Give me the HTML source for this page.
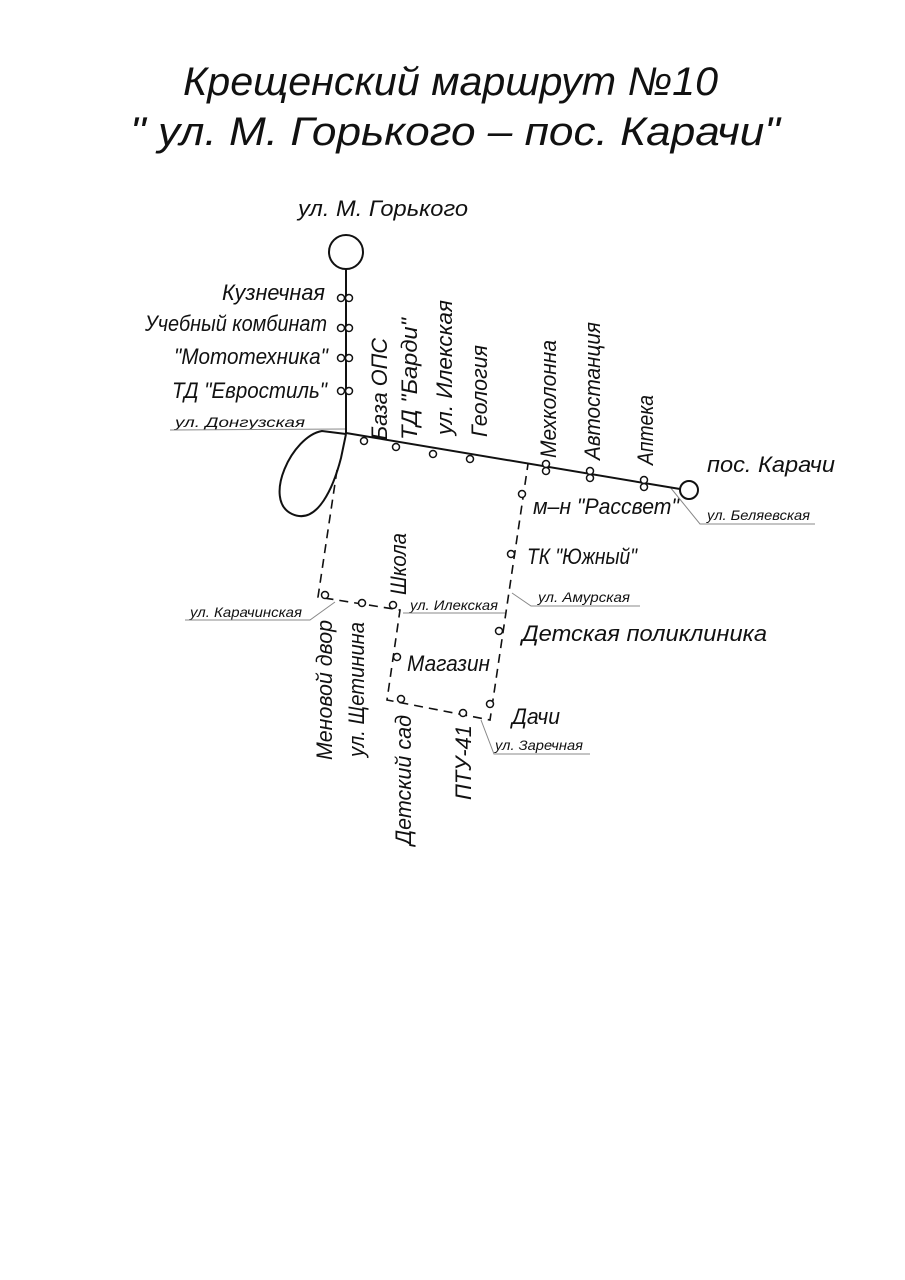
<!DOCTYPE html>
<html><head><meta charset="utf-8"><style>
html,body{margin:0;padding:0;background:#fff}
svg{display:block}
text{font-family:"Liberation Sans",sans-serif;font-style:italic;fill:#111}
</style></head><body>
<svg width="905" height="1280" viewBox="0 0 905 1280" xmlns="http://www.w3.org/2000/svg">
<rect width="905" height="1280" fill="#fff"/>
<g font-size="40" font-weight="normal">
<text x="183" y="95" textLength="535" lengthAdjust="spacingAndGlyphs">Крещенский маршрут №10</text>
<text x="130" y="145" textLength="650" lengthAdjust="spacingAndGlyphs">" ул.  М. Горького – пос. Карачи"</text>
</g>
<g font-size="22">
<text x="298" y="216" textLength="170" lengthAdjust="spacingAndGlyphs">ул. М. Горького</text>
<text x="222" y="300" textLength="103" lengthAdjust="spacingAndGlyphs">Кузнечная</text>
<text x="145" y="331" textLength="182" lengthAdjust="spacingAndGlyphs">Учебный комбинат</text>
<text x="174" y="364" textLength="154" lengthAdjust="spacingAndGlyphs">"Мототехника"</text>
<text x="172" y="398" textLength="155" lengthAdjust="spacingAndGlyphs">ТД "Евростиль"</text>
<text x="707" y="472" textLength="128" lengthAdjust="spacingAndGlyphs">пос. Карачи</text>
<text x="533" y="514" textLength="146" lengthAdjust="spacingAndGlyphs">м–н "Рассвет"</text>
<text x="527" y="564" textLength="110" lengthAdjust="spacingAndGlyphs">ТК "Южный"</text>
<text x="522" y="641" textLength="245" lengthAdjust="spacingAndGlyphs">Детская поликлиника</text>
<text x="407" y="671" textLength="83" lengthAdjust="spacingAndGlyphs">Магазин</text>
<text x="512" y="724" textLength="48" lengthAdjust="spacingAndGlyphs">Дачи</text>
<text transform="translate(387,440) rotate(-90)" textLength="102" lengthAdjust="spacingAndGlyphs">База ОПС</text>
<text transform="translate(417,440) rotate(-90)" textLength="122" lengthAdjust="spacingAndGlyphs">ТД "Барди"</text>
<text transform="translate(452,435) rotate(-90)" textLength="135" lengthAdjust="spacingAndGlyphs">ул. Илекская</text>
<text transform="translate(487,437) rotate(-90)" textLength="92" lengthAdjust="spacingAndGlyphs">Геология</text>
<text transform="translate(556,458) rotate(-90)" textLength="118" lengthAdjust="spacingAndGlyphs">Мехколонна</text>
<text transform="translate(600,460) rotate(-90)" textLength="138" lengthAdjust="spacingAndGlyphs">Автостанция</text>
<text transform="translate(653,465) rotate(-90)" textLength="70" lengthAdjust="spacingAndGlyphs">Аптека</text>
<text transform="translate(406,595) rotate(-90)" textLength="62" lengthAdjust="spacingAndGlyphs">Школа</text>
<text transform="translate(332,760) rotate(-90)" textLength="140" lengthAdjust="spacingAndGlyphs">Меновой двор</text>
<text transform="translate(364,757) rotate(-90)" textLength="135" lengthAdjust="spacingAndGlyphs">ул. Щетинина</text>
<text transform="translate(411,845) rotate(-90)" textLength="130" lengthAdjust="spacingAndGlyphs">Детский сад</text>
<text transform="translate(471,800) rotate(-90)" textLength="75" lengthAdjust="spacingAndGlyphs">ПТУ-41</text>
</g>
<g font-size="14">
<text x="175" y="427" textLength="130" lengthAdjust="spacingAndGlyphs">ул. Донгузская</text>
<text x="707" y="520" textLength="103" lengthAdjust="spacingAndGlyphs">ул. Беляевская</text>
<text x="538" y="602" textLength="92" lengthAdjust="spacingAndGlyphs">ул. Амурская</text>
<text x="190" y="617" textLength="112" lengthAdjust="spacingAndGlyphs">ул. Карачинская</text>
<text x="410" y="610" textLength="88" lengthAdjust="spacingAndGlyphs">ул. Илекская</text>
<text x="495" y="750" textLength="88" lengthAdjust="spacingAndGlyphs">ул. Заречная</text>
</g>
<g stroke="#888" stroke-width="1" fill="none">
<polyline points="170,430 345,429"/>
<polyline points="670,487 700,524 815,524"/>
<polyline points="512,593 531,606 640,606"/>
<polyline points="185,620 310,620 335,602"/>
<polyline points="403,613 505,613"/>
<polyline points="481,720 494,754 590,754"/>
</g>
<g stroke="#111" stroke-width="2" fill="none">
<circle cx="346" cy="252" r="17"/>
<line x1="346" y1="269" x2="346" y2="434"/>
<line x1="346" y1="433" x2="680" y2="489"/>
<circle cx="689" cy="490" r="9"/>
<path d="M346,434 L322,431 C292,436 262,500 292,514 C318,526 334,485 341,458 L346,434"/>
</g>
<g stroke="#111" stroke-width="1.6" fill="none" stroke-dasharray="9,6">
<polyline points="337,470 318,597 400,610 387,700 490,720 528,464"/>
</g>
<g stroke="#111" stroke-width="1.5" fill="#fff">
<circle cx="341" cy="298" r="3.5"/><circle cx="349" cy="298" r="3.5"/>
<circle cx="341" cy="328" r="3.5"/><circle cx="349" cy="328" r="3.5"/>
<circle cx="341" cy="358" r="3.5"/><circle cx="349" cy="358" r="3.5"/>
<circle cx="341" cy="391" r="3.5"/><circle cx="349" cy="391" r="3.5"/>
<circle cx="364" cy="441" r="3.5"/>
<circle cx="396" cy="447" r="3.5"/>
<circle cx="433" cy="454" r="3.5"/>
<circle cx="470" cy="459" r="3.5"/>
<circle cx="546" cy="464" r="3.5"/><circle cx="546" cy="471" r="3.5"/>
<circle cx="590" cy="471" r="3.5"/><circle cx="590" cy="478" r="3.5"/>
<circle cx="644" cy="480" r="3.5"/><circle cx="644" cy="487" r="3.5"/>
<circle cx="325" cy="595" r="3.5"/>
<circle cx="362" cy="603" r="3.5"/>
<circle cx="393" cy="605" r="3.5"/>
<circle cx="397" cy="657" r="3.5"/>
<circle cx="401" cy="699" r="3.5"/>
<circle cx="463" cy="713" r="3.5"/>
<circle cx="490" cy="704" r="3.5"/>
<circle cx="499" cy="631" r="3.5"/>
<circle cx="511" cy="554" r="3.5"/>
<circle cx="522" cy="494" r="3.5"/>
</g>
</svg>
</body></html>
